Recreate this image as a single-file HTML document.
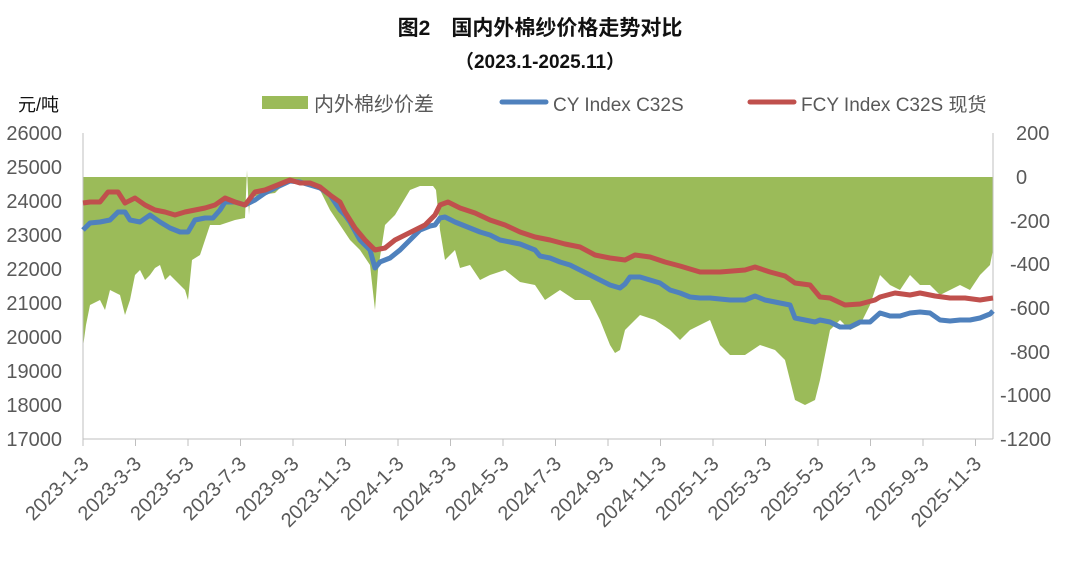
<!DOCTYPE html>
<html><head><meta charset="utf-8"><style>
body{margin:0;background:#fff;}
svg{display:block;font-family:"Liberation Sans","Noto Sans CJK SC",sans-serif;}
</style></head><body>
<svg width="1080" height="573" viewBox="0 0 1080 573" xmlns="http://www.w3.org/2000/svg">
<text x="540" y="35" text-anchor="middle" font-size="21" font-weight="bold" fill="#111">图2　国内外棉纱价格走势对比</text>
<text x="540" y="68" text-anchor="middle" font-size="19" font-weight="bold" fill="#111">（2023.1-2025.11）</text>
<text x="18" y="111" font-size="18" fill="#111">元/吨</text>
<rect x="262" y="96" width="46" height="13" fill="#9bbb59"/>
<text x="314" y="111" font-size="20" fill="#595959">内外棉纱价差</text>
<line x1="502" y1="102" x2="546" y2="102" stroke="#4f81bd" stroke-width="5" stroke-linecap="round"/>
<text x="553" y="111" font-size="19" fill="#595959">CY Index C32S</text>
<line x1="750" y1="102" x2="794" y2="102" stroke="#c0504d" stroke-width="5" stroke-linecap="round"/>
<text x="801" y="111" font-size="19" fill="#595959">FCY Index C32S 现货</text>
<g font-size="20" fill="#595959" text-anchor="end">
<text x="62" y="140">26000</text><text x="62" y="174">25000</text><text x="62" y="208">24000</text><text x="62" y="242">23000</text><text x="62" y="276">22000</text><text x="62" y="310">21000</text><text x="62" y="344">20000</text><text x="62" y="378">19000</text><text x="62" y="412">18000</text><text x="62" y="446">17000</text>
</g>
<g font-size="20" fill="#595959" text-anchor="start">
<text x="1016" y="140">200</text><text x="1016" y="184">0</text><text x="1010" y="228">-200</text><text x="1010" y="271">-400</text><text x="1010" y="315">-600</text><text x="1010" y="359">-800</text><text x="1000" y="402">-1000</text><text x="1000" y="446">-1200</text>
</g>
<polygon fill="#9bbb59" points="83,177 83,347 86,325 90,305 100,300 105,310 110,290 120,295 125,315 130,300 135,275 140,270 145,280 150,275 155,268 160,265 165,280 170,275 180,285 185,290 188,300 192,260 200,255 205,240 210,225 220,225 235,220 245,218 247,170 249,215 250,198 260,195 275,193 290,178 300,180 310,182 320,190 330,210 340,225 350,240 360,250 370,265 375,310 378,270 385,225 395,215 400,222 410,205 420,195 428,186 433,186 436,190 440,230 445,260 455,250 460,268 470,265 480,280 490,275 505,270 520,282 535,285 545,300 560,290 575,300 590,300 600,320 610,345 615,353 620,350 625,330 640,315 655,320 670,330 680,340 690,330 700,325 710,320 720,345 730,355 745,355 760,345 775,350 785,360 790,380 795,400 805,405 815,400 820,380 825,355 830,330 840,320 850,330 860,325 870,305 880,275 890,285 900,290 910,275 920,285 930,285 940,295 950,290 960,285 970,290 980,275 990,265 993,250 993,177"/>
<polygon fill="#fff" points="395,215 410,190 420,186 433,186 436,205 440,225 428,226 418,232 405,240 395,250"/>
<line x1="83" y1="133" x2="83" y2="439" stroke="#bfbfbf"/>
<line x1="993" y1="133" x2="993" y2="439" stroke="#bfbfbf"/>
<line x1="83" y1="439" x2="993" y2="439" stroke="#bfbfbf"/>
<g stroke="#bfbfbf">
<line x1="83" y1="439" x2="83" y2="446"/><line x1="135.5" y1="439" x2="135.5" y2="446"/><line x1="188" y1="439" x2="188" y2="446"/><line x1="240.5" y1="439" x2="240.5" y2="446"/><line x1="293" y1="439" x2="293" y2="446"/><line x1="345.5" y1="439" x2="345.5" y2="446"/><line x1="398" y1="439" x2="398" y2="446"/><line x1="450.5" y1="439" x2="450.5" y2="446"/><line x1="503" y1="439" x2="503" y2="446"/><line x1="555.5" y1="439" x2="555.5" y2="446"/><line x1="608" y1="439" x2="608" y2="446"/><line x1="660.5" y1="439" x2="660.5" y2="446"/><line x1="713" y1="439" x2="713" y2="446"/><line x1="765.5" y1="439" x2="765.5" y2="446"/><line x1="818" y1="439" x2="818" y2="446"/><line x1="870.5" y1="439" x2="870.5" y2="446"/><line x1="923" y1="439" x2="923" y2="446"/><line x1="975.5" y1="439" x2="975.5" y2="446"/>
</g>
<polyline fill="none" stroke="#4f81bd" stroke-width="5" stroke-linejoin="round" points="83,230 90,223 100,222 110,220 118,212 125,212 130,220 140,222 150,215 160,222 170,228 180,232 188,232 195,220 205,218 213,218 220,210 225,202 235,202 245,205 255,200 265,193 275,188 290,181 300,182 310,185 320,188 330,195 340,210 345,215 350,222 360,240 370,250 375,268 380,262 390,258 400,250 410,240 420,230 430,226 435,225 440,218 445,217 455,222 470,228 480,232 490,235 500,240 510,242 520,244 535,250 540,256 550,258 560,262 570,265 580,270 590,275 600,280 610,285 620,288 625,284 630,277 640,277 650,280 660,283 670,290 680,293 690,297 700,298 710,298 730,300 745,300 755,296 765,300 780,303 790,305 795,318 805,320 815,322 820,320 830,322 840,327 850,327 860,322 870,322 880,313 890,316 900,316 910,313 920,312 930,313 940,320 950,321 960,320 970,320 980,318 990,314 993,311"/>
<polyline fill="none" stroke="#c0504d" stroke-width="5" stroke-linejoin="round" points="83,203 90,202 100,202 108,192 118,192 125,203 135,198 145,205 155,210 165,212 175,215 185,212 195,210 205,208 215,205 225,198 235,202 245,205 255,192 265,190 275,186 290,180 300,183 310,183 320,187 330,195 340,202 345,212 355,228 365,240 375,250 385,248 395,240 405,235 415,230 425,225 435,215 440,205 448,202 460,208 475,213 490,220 505,225 520,232 535,237 550,240 565,244 580,247 595,255 610,258 625,260 635,255 650,257 665,262 680,266 700,272 720,272 745,270 755,267 770,272 785,276 795,283 810,285 820,297 830,298 845,305 860,304 875,300 880,297 895,293 910,295 920,293 935,296 950,298 965,298 980,300 993,298"/>
<g font-size="20" fill="#595959" text-anchor="end">
<text transform="translate(90,465) rotate(-45)">2023-1-3</text>
<text transform="translate(142.5,465) rotate(-45)">2023-3-3</text>
<text transform="translate(195,465) rotate(-45)">2023-5-3</text>
<text transform="translate(247.5,465) rotate(-45)">2023-7-3</text>
<text transform="translate(300,465) rotate(-45)">2023-9-3</text>
<text transform="translate(352.5,465) rotate(-45)">2023-11-3</text>
<text transform="translate(405,465) rotate(-45)">2024-1-3</text>
<text transform="translate(457.5,465) rotate(-45)">2024-3-3</text>
<text transform="translate(510,465) rotate(-45)">2024-5-3</text>
<text transform="translate(562.5,465) rotate(-45)">2024-7-3</text>
<text transform="translate(615,465) rotate(-45)">2024-9-3</text>
<text transform="translate(667.5,465) rotate(-45)">2024-11-3</text>
<text transform="translate(720,465) rotate(-45)">2025-1-3</text>
<text transform="translate(772.5,465) rotate(-45)">2025-3-3</text>
<text transform="translate(825,465) rotate(-45)">2025-5-3</text>
<text transform="translate(877.5,465) rotate(-45)">2025-7-3</text>
<text transform="translate(930,465) rotate(-45)">2025-9-3</text>
<text transform="translate(982.5,465) rotate(-45)">2025-11-3</text>
</g>
</svg>
</body></html>
